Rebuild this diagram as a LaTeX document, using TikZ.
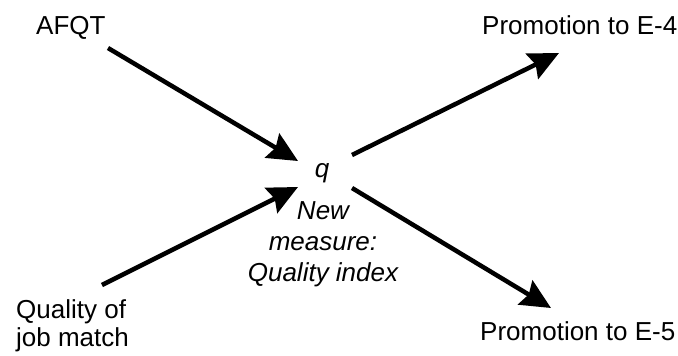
\documentclass[tikz,border=0pt]{standalone}
\usepackage{fontspec}
\setmainfont{Liberation Sans}
\usetikzlibrary{arrows.meta}
\begin{document}
\begin{tikzpicture}[x=1bp,y=-1bp,
  lbl/.style={inner sep=0pt,font=\fontsize{26bp}{28bp}\selectfont},
  ilbl/.style={inner sep=0pt,font=\fontsize{26bp}{31bp}\selectfont\itshape},
  arr/.style={line width=4.5bp,-{Stealth[length=30bp,width=28bp,inset=4bp]}}]
\useasboundingbox (0,0) rectangle (678,355);
\node[lbl,anchor=base west] (afqt) at (36,34) {AFQT};
\node[lbl,anchor=base west] (e4) at (482,34) {Promotion to E-4};
\node[lbl,anchor=base west] (e5) at (480,340) {Promotion to E-5};
\node[lbl,anchor=north west,align=left] (job) at (16,299) {Quality of\\job match};
\node[ilbl,anchor=base] (q) at (322,177) {q};
\node[ilbl,anchor=north,align=center] (qi) at (323,201) {New\\measure:\\Quality index};
\coordinate (a1s) at (108,48);  \coordinate (a1e) at (298,161);
\coordinate (a2s) at (102,285); \coordinate (a2e) at (298,187);
\coordinate (a3s) at (352,155); \coordinate (a3e) at (559,53);
\coordinate (a4s) at (352,188); \coordinate (a4e) at (551,308);
\draw[arr] (a1s) -- (a1e);
\draw[arr] (a2s) -- (a2e);
\draw[arr] (a3s) -- (a3e);
\draw[arr] (a4s) -- (a4e);
\end{tikzpicture}
\end{document}
